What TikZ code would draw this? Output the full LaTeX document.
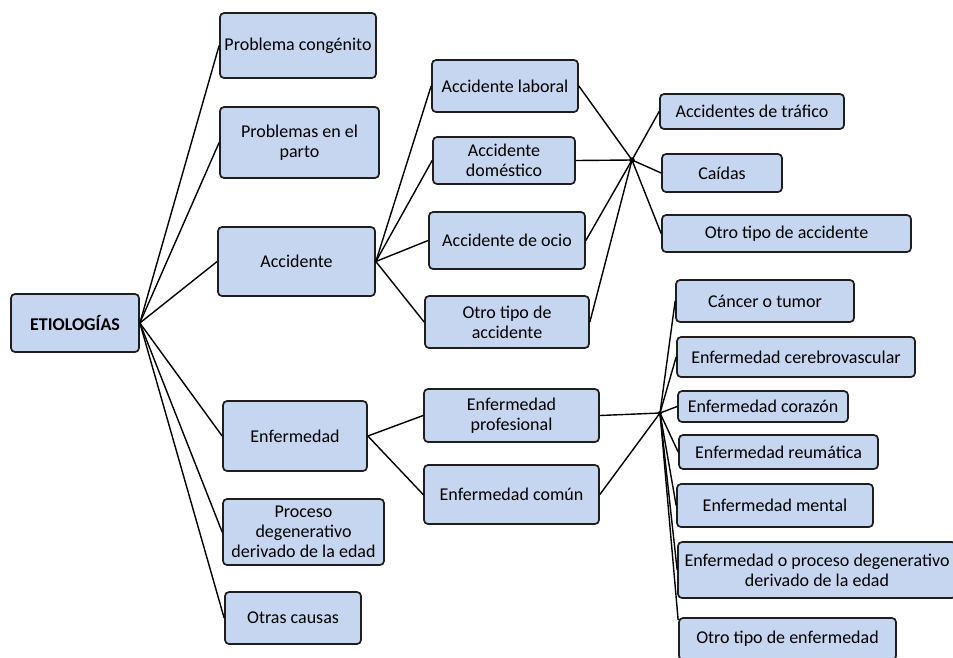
\documentclass[tikz,border=0pt]{standalone}
\usepackage{fontspec}
\setmainfont{Carlito}
\usepackage{xcolor}
\definecolor{cajaazul}{HTML}{C6D6F0}
\definecolor{borde}{HTML}{1E1E1E}

\begin{document}
\begin{tikzpicture}[x=1pt,y=-1pt,
    caja/.style={draw=borde, fill=cajaazul, line width=1.7pt, rounded corners=4pt,
      align=center, inner sep=0pt, text=black, font=\fontsize{18}{20}\selectfont},
    linea/.style={line width=1.4pt, black}]
      \useasboundingbox (0,0) rectangle (953,657);
      % Root
      \node[caja, font=\fontsize{18}{20}\selectfont\bfseries, minimum width=128pt, minimum height=58pt] (etio) at (75,323) {ETIOLOGÍAS};
      % First level
      \node[caja, minimum width=156pt, minimum height=65pt] (pcong) at (298,45.5) {Problema congénito};
      \node[caja, minimum width=159pt, minimum height=71pt] (ppart) at (299.5,142.5) {Problemas en el\\parto};
      \node[caja, minimum width=157pt, minimum height=69pt] (acc) at (296.5,261.5) {Accidente};
      \node[caja, minimum width=144pt, minimum height=70pt] (enf) at (295,436) {Enfermedad};
      \node[caja, minimum width=161pt, minimum height=66pt] (proc) at (303.5,532) {Proceso\\degenerativo\\derivado de la edad};
      \node[caja, minimum width=136pt, minimum height=52pt] (otras) at (293,618) {Otras causas};
      % Accidents
      \node[caja, minimum width=146pt, minimum height=52pt] (alab) at (505,86) {Accidente laboral};
      \node[caja, minimum width=142pt, minimum height=47pt] (adom) at (504,160.5) {Accidente\\doméstico};
      \node[caja, minimum width=156pt, minimum height=57pt] (aocio) at (507,240.5) {Accidente de ocio};
      \node[caja, minimum width=164pt, minimum height=52pt] (aotro) at (507,322) {Otro tipo de\\accidente};
      \node[caja, minimum width=184pt, minimum height=35pt] (atraf) at (752,111.5) {Accidentes de tráfico};
      \node[caja, minimum width=120pt, minimum height=38pt] (acaid) at (722,173) {Caídas};
      \node[caja, minimum width=249pt, minimum height=37pt] (atipo) at (786.5,233.5) {Otro tipo de accidente};
      % Diseases
      \node[caja, minimum width=175pt, minimum height=53pt] (eprof) at (511.5,415.5) {Enfermedad\\profesional};
      \node[caja, minimum width=175pt, minimum height=59pt] (ecom) at (511.5,494.5) {Enfermedad común};
      \node[caja, minimum width=178pt, minimum height=42pt] (ecanc) at (765,301) {Cáncer o tumor};
      \node[caja, minimum width=238pt, minimum height=40pt] (ecere) at (796,357) {Enfermedad cerebrovascular};
      \node[caja, minimum width=170pt, minimum height=31pt] (ecora) at (763,406.5) {Enfermedad corazón};
      \node[caja, minimum width=199pt, minimum height=34pt] (ereum) at (778.5,452) {Enfermedad reumática};
      \node[caja, minimum width=196pt, minimum height=43pt] (ement) at (775,505.5) {Enfermedad mental};
      \node[caja, minimum width=278pt, minimum height=56pt] (edeg) at (817,570) {Enfermedad o proceso degenerativo\\derivado de la edad};
      \node[caja, minimum width=217pt, minimum height=42pt] (eotro) at (787.5,639) {Otro tipo de enfermedad};
      % Hubs
      \coordinate (hubacc) at (632,160);
      \coordinate (hubenf) at (660,413);
      \fill (hubacc) circle (2.8pt);
      \fill (hubenf) circle (2pt);
      % Lines from root
      \draw[linea] (etio.east) -- (pcong.west);
      \draw[linea] (etio.east) -- (ppart.west);
      \draw[linea] (etio.east) -- (acc.west);
      \draw[linea] (etio.east) -- (enf.west);
      \draw[linea] (etio.east) -- (proc.west);
      \draw[linea] (etio.east) -- (otras.west);
      % Accident lines
      \draw[linea] (acc.east) -- (alab.west);
      \draw[linea] (acc.east) -- (adom.west);
      \draw[linea] (acc.east) -- (aocio.west);
      \draw[linea] (acc.east) -- (aotro.west);
      \draw[linea] (alab.east) -- (hubacc);
      \draw[linea] (adom.east) -- (hubacc);
      \draw[linea] (aocio.east) -- (hubacc);
      \draw[linea] (aotro.east) -- (hubacc);
      \draw[linea] (hubacc) -- (atraf.west);
      \draw[linea] (hubacc) -- (acaid.west);
      \draw[linea] (hubacc) -- (atipo.west);
      % Disease lines
      \draw[linea] (enf.east) -- (eprof.west);
      \draw[linea] (enf.east) -- (ecom.west);
      \draw[linea] (eprof.east) -- (hubenf);
      \draw[linea] (ecom.east) -- (hubenf);
      \draw[linea] (hubenf) -- (ecanc.west);
      \draw[linea] (hubenf) -- (ecere.west);
      \draw[linea] (hubenf) -- (ecora.west);
      \draw[linea] (hubenf) -- (ereum.west);
      \draw[linea] (hubenf) -- (ement.west);
      \draw[linea] (hubenf) -- (edeg.west);
      \draw[linea] (hubenf) -- ([yshift=-3pt]eotro.north west);
    \end{tikzpicture}
\end{document}
